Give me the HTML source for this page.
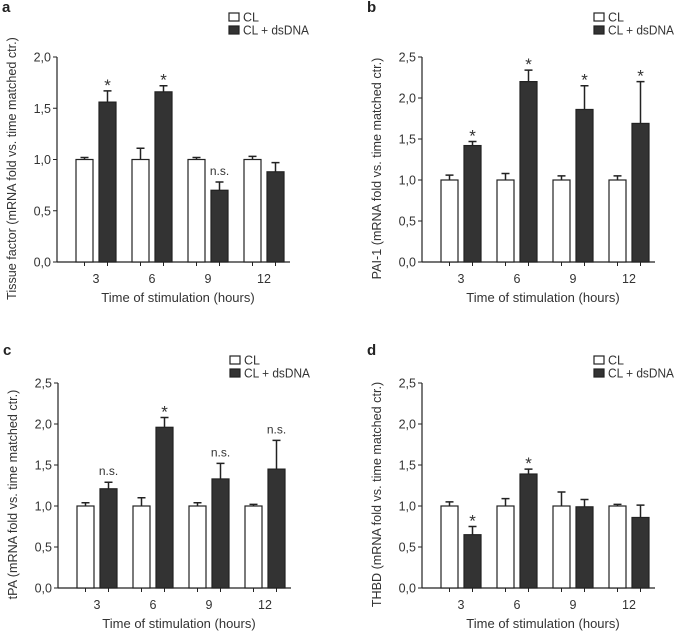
<!DOCTYPE html>
<html><head><meta charset="utf-8"><style>
body{margin:0;background:#fff;}
svg{display:block;font-family:"Liberation Sans",sans-serif;}
</style></head><body>
<svg id="fig" width="675" height="634" viewBox="0 0 675 634" xmlns="http://www.w3.org/2000/svg"></svg>
<script>
const categories = ['3','6','9','12'];
const aCL = [1,1,1,1];
const aCLerr = [0.02,0.11,0.02,0.03];
const aDS = [1.56,1.66,0.70,0.88];
const aDSerr = [0.11,0.06,0.08,0.09];
const aAnn = ['*','*','n.s.',''];
const aTicks = ['0,0','0,5','1,0','1,5','2,0'];

const bCL = [1,1,1,1];
const bCLerr = [0.06,0.08,0.05,0.05];
const bDS = [1.42,2.20,1.86,1.69];
const bDSerr = [0.05,0.14,0.29,0.51];
const bAnn = ['*','*','*','*'];
const bTicks = ['0,0','0,5','1,0','1,5','2,0','2,5'];

const cCL = [1,1,1,1];
const cCLerr = [0.04,0.10,0.04,0.02];
const cDS = [1.21,1.96,1.33,1.45];
const cDSerr = [0.08,0.12,0.19,0.35];
const cAnn = ['n.s.','*','n.s.','n.s.'];

const dCL = [1,1,1,1];
const dCLerr = [0.05,0.09,0.17,0.02];
const dDS = [0.65,1.39,0.99,0.86];
const dDSerr = [0.10,0.06,0.09,0.15];
const dAnn = ['*','*','',''];

const NS='http://www.w3.org/2000/svg';
const svg=document.getElementById('fig');
function mk(tag,attrs,parent,txt){const e=document.createElementNS(NS,tag);for(const k in attrs)e.setAttribute(k,attrs[k]);if(txt!==undefined)e.textContent=txt;(parent||svg).appendChild(e);return e;}

function panel(id,letter,ox,oy,lgOff,ymax,ticks,yTitle,cl,clErr,ds,dsErr,ann){
  const g=mk('g',{});
  
  
  const top=oy+57, bot=oy+262, h=bot-top;
  const y=v=>bot-v/ymax*h;
  const xCL=i=>ox+19+i*56, xDS=i=>ox+42+i*56, bw=17;
  const lab=mk('text',{x:ox-55,y:oy+12+lgOff,'font-size':15,'font-weight':'bold',fill:'#222'},g,letter);
  
  
  const ya=mk('line',{x1:ox,y1:top,x2:ox,y2:bot,stroke:'#222','stroke-width':1.2},g);
  
  
  const xa=mk('line',{x1:ox,y1:bot,x2:ox+233,y2:bot,stroke:'#222','stroke-width':1.2},g);
  
  
  ticks.forEach((t,i)=>{
    const v=i*0.5;
    mk('line',{x1:ox-4,y1:y(v),x2:ox,y2:y(v),stroke:'#222'},g);
    const tl=mk('text',{x:ox-6,y:y(v)+4.5,'font-size':12.5,'text-anchor':'end',fill:'#333'},g,t);
    
    
  });
  categories.forEach((c,i)=>{
    mk('line',{x1:xCL(i)+bw/2,y1:bot,x2:xCL(i)+bw/2,y2:bot+4,stroke:'#222'},g);
    mk('line',{x1:xDS(i)+bw/2,y1:bot,x2:xDS(i)+bw/2,y2:bot+4,stroke:'#222'},g);
    const tl=mk('text',{x:(xCL(i)+xDS(i)+bw)/2,y:bot+21,'font-size':12.5,'text-anchor':'middle',fill:'#333'},g,c);
    
    
    const b1=mk('rect',{x:xCL(i),y:y(cl[i]),width:bw,height:bot-y(cl[i]),fill:'#fff',stroke:'#222','stroke-width':1.2},g);
    
    
    const b2=mk('rect',{x:xDS(i),y:y(ds[i]),width:bw,height:bot-y(ds[i]),fill:'#333',stroke:'#222','stroke-width':1.2},g);
    
    
    [[xCL(i),cl[i],clErr[i]],[xDS(i),ds[i],dsErr[i]]].forEach(([x0,v,e])=>{
      const cx=x0+bw/2;
      const eb=mk('path',{d:`M${cx},${y(v)} V${y(v+e)} M${cx-4},${y(v+e)} H${cx+4}`,stroke:'#222','stroke-width':1.5,fill:'none'},g);
      
      
    });
    if(ann[i]){
      const star=ann[i]==='*';
      const an=mk('text',{x:xDS(i)+bw/2,y:y(ds[i]+dsErr[i])-(star?0:7),'font-size':star?17:12,'text-anchor':'middle',fill:'#333'},g,ann[i]);
      
      
    }
  });
  const xt=mk('text',{x:ox+121,y:oy+302,'font-size':13,'text-anchor':'middle',fill:'#333'},g,'Time of stimulation (hours)');
  
  
  const cy=(top+bot)/2+9;
  const yx=ox-41;
  const yt=mk('text',{x:yx,y:cy,'font-size':12.6,'text-anchor':'middle',fill:'#333',transform:`rotate(-90 ${yx} ${cy})`},g,yTitle);
  
  
  const lg=mk('g',{},g);
  
  
  const ly=oy+lgOff;
  const r1=mk('rect',{x:ox+172,y:ly+13,width:10,height:8,fill:'#fff',stroke:'#222','stroke-width':1.2},lg);
  
  
  const t1=mk('text',{x:ox+186,y:ly+21.5,'font-size':12.5,fill:'#333'},lg,'CL');
  
  
  const r2=mk('rect',{x:ox+172,y:ly+26,width:10,height:8,fill:'#333',stroke:'#222','stroke-width':1.2},lg);
  
  
  const t2=mk('text',{x:ox+186,y:ly+34.5,'font-size':12.5,fill:'#333',textLength:66,lengthAdjust:'spacingAndGlyphs'},lg,'CL + dsDNA');
  
  
}
panel('a','a',57,0,0,2.0,aTicks,'Tissue factor (mRNA fold vs. time matched ctr.)',aCL,aCLerr,aDS,aDSerr,aAnn);
panel('b','b',422,0,0,2.5,bTicks,'PAI-1 (mRNA fold vs. time matched ctr.)',bCL,bCLerr,bDS,bDSerr,bAnn);
panel('c','c',58,326,17,2.5,bTicks,'tPA (mRNA fold vs. time matched ctr.)',cCL,cCLerr,cDS,cDSerr,cAnn);
panel('d','d',422,326,17,2.5,bTicks,'THBD (mRNA fold vs. time matched ctr.)',dCL,dCLerr,dDS,dDSerr,dAnn);
</script>
</body></html>
